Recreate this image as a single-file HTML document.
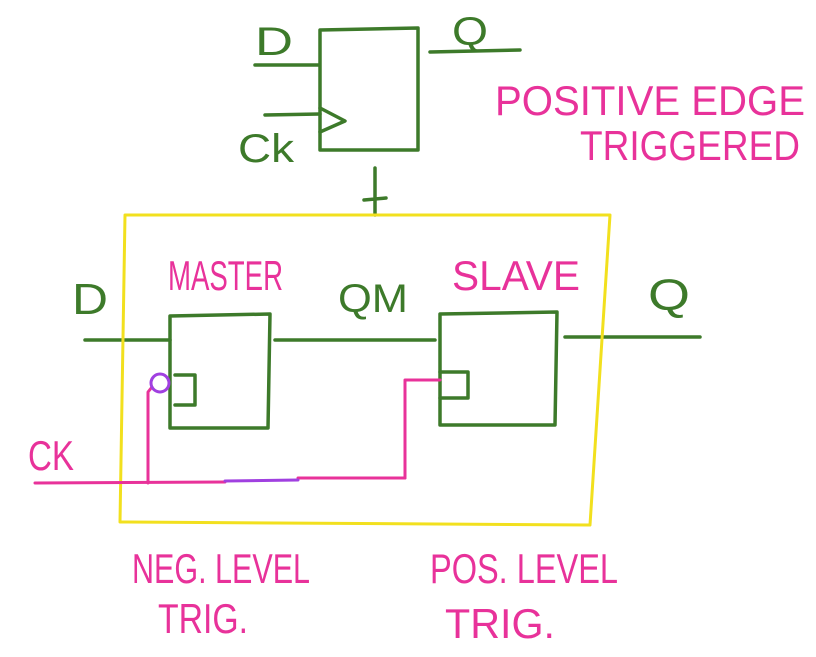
<!DOCTYPE html>
<html><head><meta charset="utf-8"><style>html,body{margin:0;padding:0;background:#fff}svg{display:block}</style></head>
<body>
<svg width="816" height="657" viewBox="0 0 816 657" xmlns="http://www.w3.org/2000/svg">
<g fill="none" stroke-linecap="round" stroke-linejoin="round">
<g stroke="#3d7a2a" stroke-width="3.5">
<path d="M320 30 L418 28 L418 150 L320 150 Z"/>
<path d="M255 65 L318 65"/>
<path d="M430 52 L520 50"/>
<path d="M265 115 L320 114"/>
<path d="M320 108 L345 121 L320 132"/>
<path d="M375 168 L375 215 M364 200 L386 198"/>
<path d="M170 316 L270 314 L268 428 L170 428 Z"/>
<path d="M175 375 L195 375 L195 405 L175 405"/>
<path d="M85 340 L170 340"/>
<path d="M275 340 L435 340"/>
<path d="M440 314 L557 312 L555 425 L440 425 Z"/>
<path d="M440 372 L468 372 L468 398 L440 398"/>
<path d="M565 337 L700 337"/>
</g>
<path d="M125 215 L610 215 L590 525 L120 522 Z" stroke="#f2e01e" stroke-width="3"/>
<g stroke="#e8329a" stroke-width="3">
<path d="M35 483 L225 482"/>
<path d="M298 478 L405 478"/>
<path d="M148 483 L148 392 L152 387"/>
<path d="M405 478 L405 380 L440 380"/>
</g>
<path d="M225 481 L298 480" stroke="#a040e0" stroke-width="3"/>
<circle cx="160" cy="383" r="9" stroke="#a040e0" stroke-width="3"/>
</g>
<g font-family="Liberation Sans, sans-serif">
<g fill="#3d7a2a" font-size="40">
<text x="255" y="55" textLength="38" lengthAdjust="spacingAndGlyphs">D</text>
<text x="452" y="45" textLength="36" lengthAdjust="spacingAndGlyphs">Q</text>
<text x="238" y="162" textLength="56" lengthAdjust="spacingAndGlyphs">Ck</text>
<text x="72" y="314" font-size="44" textLength="36" lengthAdjust="spacingAndGlyphs">D</text>
<text x="338" y="312" textLength="70" lengthAdjust="spacingAndGlyphs">QM</text>
<text x="648" y="310" font-size="44" textLength="42" lengthAdjust="spacingAndGlyphs">Q</text>
</g>
<g fill="#e8329a" font-size="42">
<text x="495" y="115" textLength="310" lengthAdjust="spacingAndGlyphs">POSITIVE EDGE</text>
<text x="580" y="160" textLength="220" lengthAdjust="spacingAndGlyphs">TRIGGERED</text>
<text x="168" y="290" textLength="115" lengthAdjust="spacingAndGlyphs">MASTER</text>
<text x="452" y="290" textLength="128" lengthAdjust="spacingAndGlyphs">SLAVE</text>
<text x="28" y="470" textLength="46" lengthAdjust="spacingAndGlyphs">CK</text>
<text x="132" y="583" textLength="178" lengthAdjust="spacingAndGlyphs">NEG. LEVEL</text>
<text x="158" y="633" textLength="90" lengthAdjust="spacingAndGlyphs">TRIG.</text>
<text x="430" y="583" textLength="188" lengthAdjust="spacingAndGlyphs">POS. LEVEL</text>
<text x="445" y="638" textLength="110" lengthAdjust="spacingAndGlyphs">TRIG.</text>
</g>
</g>
</svg>
</body></html>
